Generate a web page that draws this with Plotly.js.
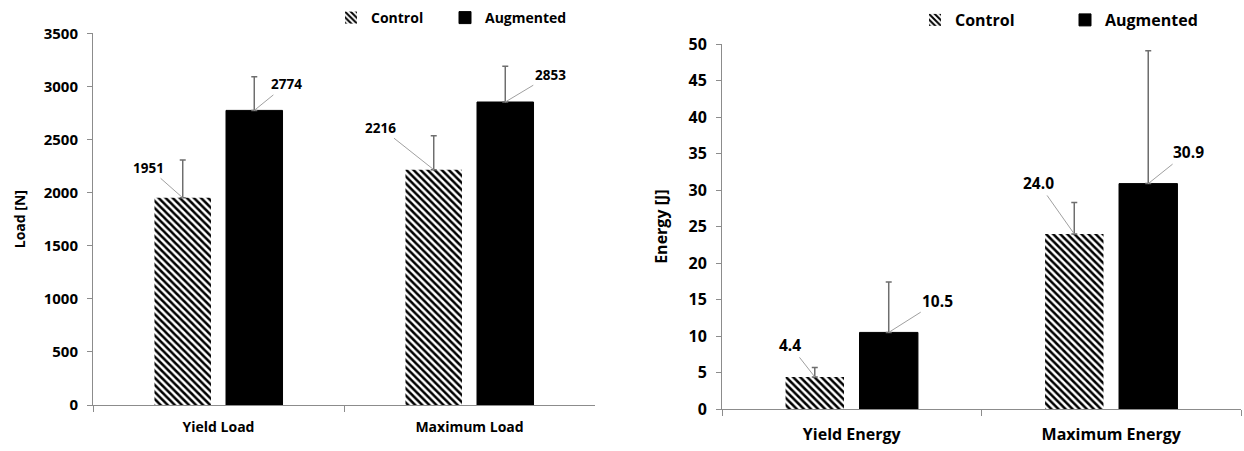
<!DOCTYPE html>
<html>
<head>
<meta charset="utf-8">
<script src="https://cdn.plot.ly/plotly-3.0.1.min.js"></script>
<style>html,body{margin:0;padding:0;background:#fff;}#chart{width:1244px;height:451px;}</style>
</head>
<body>
<div id="chart"></div>
<script>
// ---- data ----
const loadCategories = ["Yield Load", "Maximum Load"];
const loadControl = [1951, 2216];
const loadControlErr = [356, 320];
const loadAugmented = [2774, 2853];
const loadAugmentedErr = [317, 336];

const energyCategories = ["Yield Energy", "Maximum Energy"];
const energyControl = [4.4, 24.0];
const energyControlErr = [1.3, 4.3];
const energyAugmented = [10.5, 30.9];
const energyAugmentedErr = [6.9, 18.2];

const seriesNames = ["Control", "Augmented"];
const loadTicks = [0, 500, 1000, 1500, 2000, 2500, 3000, 3500];
const energyTicks = [0, 5, 10, 15, 20, 25, 30, 35, 40, 45, 50];

// ---- style ----
const FONT = "Open Sans, Lato, DejaVu Sans, sans-serif";
const BARGAP = 0.43, BARGROUPGAP = 0.21;
const axisGray = "#8c8c8c";
const errGray = "#6e6e6e";
// label offsets (px) relative to bar top: [control per category], [augmented per category]
const loadLabelOffsets = [[[-34, -30], [-53, -42]], [[32, -26], [45, -27]]];
const energyLabelOffsets = [[[-25, -32], [-36, -51]], [[49, -31], [40, -32]]];

function zeros(n) { return new Array(n).fill(0); }

function makeTraces(cats, ctrl, ctrlErr, aug, augErr, xa, ya, legendIds) {
  return [
    {
      type: "bar", name: seriesNames[0], x: cats, y: ctrl, xaxis: xa, yaxis: ya,
      legend: legendIds[0], showlegend: true,
      marker: { color: "#ffffff", line: { width: 0 },
        pattern: { shape: "\\", fgcolor: "#000000", bgcolor: "#ffffff", size: 5, solidity: 0.5 } },
      error_y: { type: "data", symmetric: false, array: ctrlErr, arrayminus: zeros(ctrlErr.length),
        color: errGray, thickness: 1.5, width: 3 },
      hoverinfo: "skip"
    },
    {
      type: "bar", name: seriesNames[1], x: cats, y: aug, xaxis: xa, yaxis: ya,
      legend: legendIds[1], showlegend: true,
      marker: { color: "#000000", line: { color: "#000000", width: 1 } },
      error_y: { type: "data", symmetric: false, array: augErr, arrayminus: zeros(augErr.length),
        color: errGray, thickness: 1.5, width: 3 },
      hoverinfo: "skip"
    }
  ];
}

const traces = [
  ...makeTraces(loadCategories, loadControl, loadControlErr, loadAugmented, loadAugmentedErr, "x", "y", ["legend", "legend2"]),
  ...makeTraces(energyCategories, energyControl, energyControlErr, energyAugmented, energyAugmentedErr, "x2", "y2", ["legend3", "legend4"])
];

function makeLabels(values, offsets, xref, yref, fmt, size) {
  const out = [];
  const half = (1 - BARGAP) / 4;
  values.forEach((series, s) => {
    series.forEach((v, i) => {
      out.push({
        x: i + (s === 0 ? -half : half), y: v, xref: xref, yref: yref,
        text: fmt(v), showarrow: true, arrowhead: 0, arrowwidth: 1, arrowcolor: "#a0a0a0",
        ax: offsets[s][i][0], ay: offsets[s][i][1], standoff: 0,
        font: { family: FONT, size: size, color: "#000", weight: "bold" }
      });
    });
  });
  return out;
}

const annotations = [
  ...makeLabels([loadControl, loadAugmented], loadLabelOffsets, "x", "y", v => String(v), 13.5),
  ...makeLabels([energyControl, energyAugmented], energyLabelOffsets, "x2", "y2", v => v.toFixed(1), 15.5)
];

function xAxis(domain, anchor, size, standoff) {
  return {
    domain: domain, anchor: anchor, type: "category", tickson: "boundaries",
    ticks: "outside", ticklen: 6, tickcolor: axisGray, tickwidth: 1,
    showline: true, linecolor: axisGray, linewidth: 1, showgrid: false, zeroline: false,
    ticklabelstandoff: standoff, fixedrange: true,
    tickfont: { family: FONT, size: size, color: "#000", weight: "bold" }
  };
}
function yAxis(domain, anchor, range, ticks, title, size, titleSize, standoff) {
  return {
    domain: domain, anchor: anchor, range: range, tickvals: ticks, ticktext: ticks.map(String),
    ticks: "outside", ticklen: 5, tickcolor: axisGray, tickwidth: 1,
    showline: true, linecolor: axisGray, linewidth: 1, showgrid: false, zeroline: false,
    ticklabelstandoff: 6, automargin: false, fixedrange: true,
    tickfont: { family: FONT, size: size, color: "#000", weight: "bold" },
    title: { text: title, standoff: standoff, font: { family: FONT, size: titleSize, color: "#000", weight: "bold" } }
  };
}

const W = 1244, H = 451;
function legendAt(xText, yCenter, size) {
  return { orientation: "h", x: (xText - 40) / W, xanchor: "left", y: (H - yCenter) / H, yanchor: "middle",
    font: { family: FONT, size: size, color: "#000", weight: "bold" }, bgcolor: "rgba(0,0,0,0)",
    itemclick: false, itemdoubleclick: false };
}

const layout = {
  width: W, height: H,
  margin: { l: 0, r: 0, t: 0, b: 0 },
  paper_bgcolor: "#fff", plot_bgcolor: "#fff",
  barmode: "group", bargap: BARGAP, bargroupgap: BARGROUPGAP,
  font: { family: FONT, color: "#000" },
  xaxis: xAxis([93 / W, 595 / W], "y", 14, 9),
  yaxis: yAxis([46 / H, 417.7 / H], "x", [0, 3500], loadTicks, "Load [N]", 15, 14, 14),
  xaxis2: xAxis([722 / W, 1241 / W], "y2", 16, 11),
  yaxis2: yAxis([42 / H, 406.7 / H], "x2", [0, 50], energyTicks, "Energy [J]", 16, 16, 16),
  legend: legendAt(371, 18, 14),
  legend2: legendAt(485, 18, 14),
  legend3: legendAt(955, 20, 16),
  legend4: legendAt(1105, 20, 16),
  annotations: annotations,
  showlegend: true
};

Plotly.newPlot("chart", traces, layout, { displayModeBar: false, staticPlot: true });
</script>
</body>
</html>
